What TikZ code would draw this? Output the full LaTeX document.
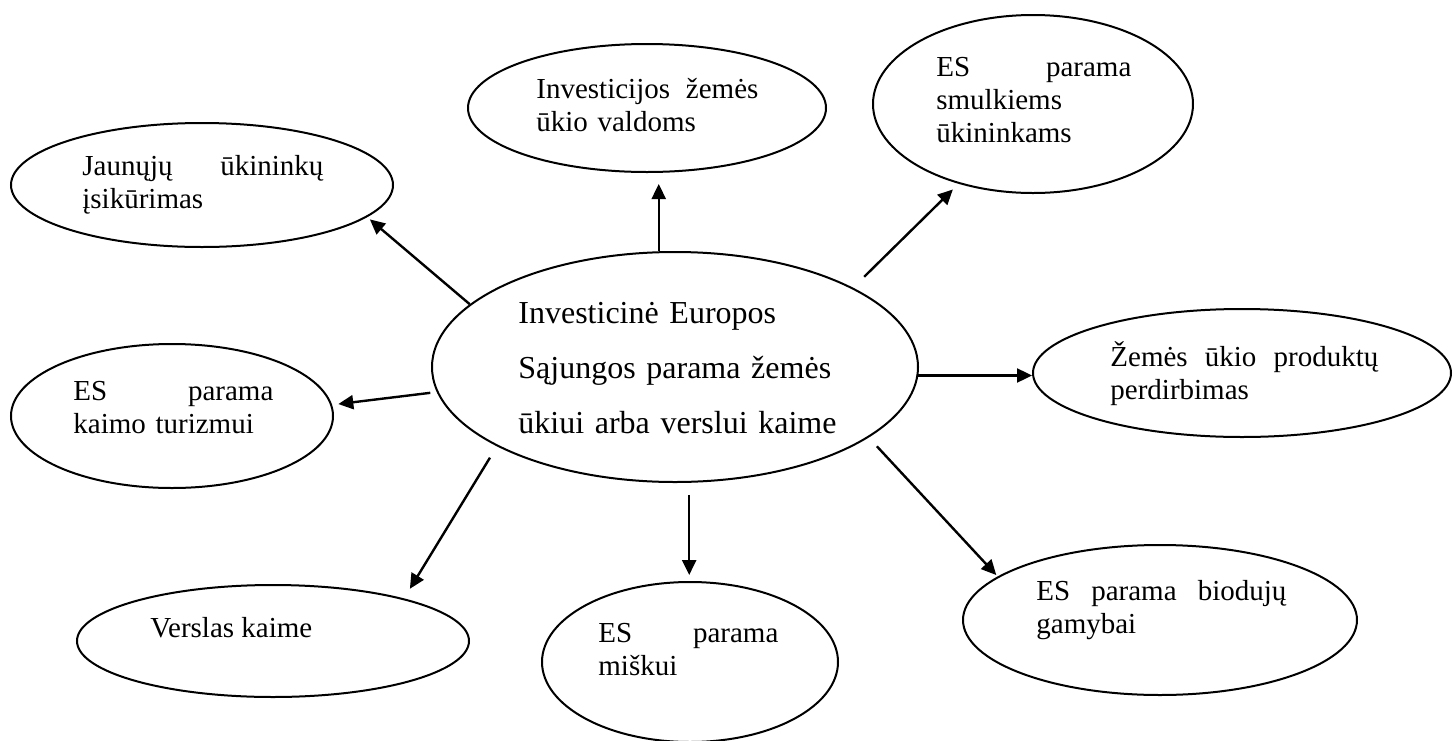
\documentclass[tikz,border=0pt]{standalone}
\usepackage{fontspec}
\setmainfont{Liberation Serif}
\usetikzlibrary{shapes.geometric,arrows.meta}

\begin{document}
\begin{tikzpicture}[x=0.5pt,y=-0.5pt,
  oval/.style={draw,ellipse,line width=1pt,inner sep=0pt},
  txt/.style={anchor=base west,inner sep=0pt,align=left,font=\fontsize{14.5pt}{16.5pt}\selectfont},
  arr/.style={line width=1.2pt,-{Triangle[length=7.5pt,width=7pt]}}]
\useasboundingbox (0,0) rectangle (1453,740);

\node[oval,minimum width=243pt,minimum height=115pt] (cen) at (675,367) {};
\node[oval,minimum width=191pt,minimum height=62pt] (young) at (202,185) {};
\node[oval,minimum width=179pt,minimum height=64pt] (invest) at (647,108) {};
\node[oval,minimum width=160pt,minimum height=89pt] (small) at (1033,104) {};
\node[oval,minimum width=209pt,minimum height=64pt] (proc) at (1242,373) {};
\node[oval,minimum width=161pt,minimum height=72pt] (tour) at (172,416) {};
\node[oval,minimum width=196pt,minimum height=56pt] (rural) at (273,641) {};
\node[oval,minimum width=148pt,minimum height=80pt] (forest) at (690,662) {};
\node[oval,minimum width=197pt,minimum height=75pt] (bio) at (1160,620) {};

\node[txt,text width=170pt,font=\fontsize{16pt}{27.5pt}\selectfont] (cen-t) at (518,323)
  {Investicinė Europos\\Sąjungos parama žemės\\ūkiui arba verslui kaime};
\node[txt,text width=120.5pt] (young-t) at (82,175) {Jaunųjų\hfill ūkininkų\\įsikūrimas};
\node[txt,text width=111pt] (invest-t) at (536,98) {Investicijos\hfill žemės\\ūkio valdoms};
\node[txt,text width=97.5pt] (small-t) at (936,76) {ES\hfill parama\\smulkiems\\ūkininkams};
\node[txt,text width=134pt] (proc-t) at (1110,366) {Žemės\hfill ūkio\hfill produktų\\perdirbimas};
\node[txt,text width=100pt] (tour-t) at (73,400) {ES\hfill parama\\kaimo turizmui};
\node[txt] (rural-t) at (150,637) {Verslas kaime};
\node[txt,text width=90pt] (forest-t) at (598,642) {ES\hfill parama\\miškui};
\node[txt,text width=125pt] (bio-t) at (1036,600) {ES\hfill parama\hfill biodujų\\gamybai};

\draw[arr,shorten >=1.75pt] (cen.163.8) -- (young.-11.4);
\draw[arr,shorten >=5.5pt] (cen.98.9) -- (cen.98.9 |- invest.south);
\draw[arr,shorten <=7.75pt,shorten >=4pt] (cen.24.8) -- (small.-133.8);
\draw[arr] (cen.-2.8) -- (cen.-2.8 -| proc.west);
\draw[arr,shorten <=6pt,shorten >=1pt] (cen.-20.5) -- (bio.165.7);
\draw[arr,shorten <=6pt,shorten >=3pt] (cen.-83.5) -- (cen.-83.5 |- forest.north);
\draw[arr,shorten <=6.65pt,shorten >=5.65pt] (cen.-156) -- (rural.18.4);
\draw[arr,shorten <=3.25pt,shorten >=3.15pt] (cen.-174.2) -- (tour.4.4);
\end{tikzpicture}
\end{document}
